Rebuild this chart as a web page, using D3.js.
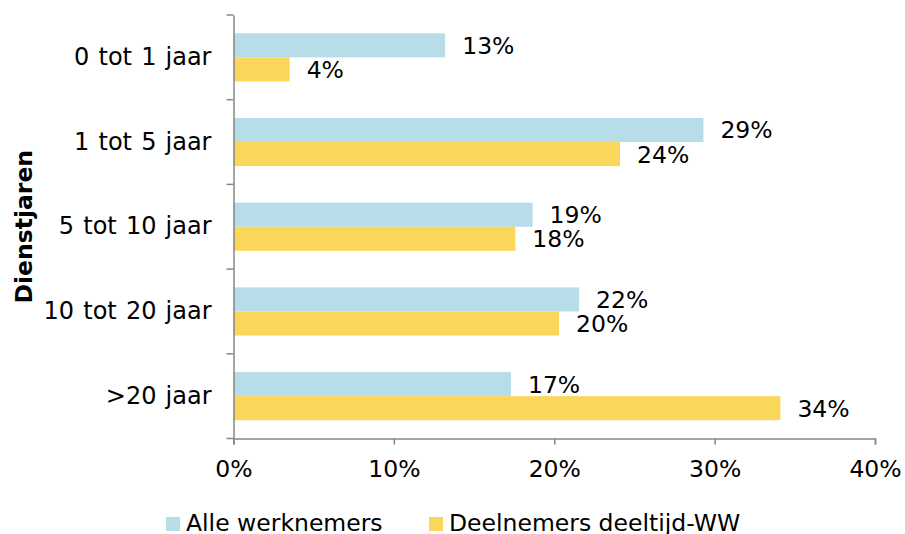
<!DOCTYPE html>
<html>
<head>
<meta charset="utf-8">
<script src="https://cdn.jsdelivr.net/npm/d3@7"></script>
<style>
  html, body { margin: 0; padding: 0; background: #fff; }
  svg { display: block; font-family: "DejaVu Sans", Verdana, sans-serif; }
</style>
</head>
<body>
<svg id="chart" width="905" height="534"></svg>
<script>
const categories = ["0 tot 1 jaar", "1 tot 5 jaar", "5 tot 10 jaar", "10 tot 20 jaar", ">20 jaar"];
const seriesNames = ["Alle werknemers", "Deelnemers deeltijd-WW"];
const alleWerknemers = [0.132, 0.293, 0.1865, 0.2155, 0.173];
const deelnemersWW = [0.035, 0.241, 0.1757, 0.203, 0.341];
const labelsAlle = ["13%", "29%", "19%", "22%", "17%"];
const labelsWW = ["4%", "24%", "18%", "20%", "34%"];
const xTicks = [0, 0.1, 0.2, 0.3, 0.4];
const colors = ["#B7DDE8", "#FAD75B"];

(function () {
const svg = d3.select("#chart");
const FS = 23.5;
const mLeft = 233.5, mRight = 875, mTop = 15, mBottom = 438.5;

const x = d3.scaleLinear().domain([0, 0.4]).range([mLeft, mRight]);
const y = d3.scaleBand().domain(categories).range([mTop, mBottom]).paddingInner(0).paddingOuter(0);
const inner = d3.scaleBand().domain(seriesNames).range([0, y.bandwidth()]).paddingOuter(0.76).paddingInner(0);

const series = [alleWerknemers, deelnemersWW];
const seriesLabels = [labelsAlle, labelsWW];

series.forEach((vals, si) => {
  svg.append("g").selectAll("rect").data(vals).join("rect")
    .attr("x", x(0))
    .attr("y", (d, i) => y(categories[i]) + inner(seriesNames[si]))
    .attr("width", d => x(d) - x(0))
    .attr("height", inner.bandwidth())
    .attr("fill", colors[si]);
  svg.append("g").selectAll("text").data(vals).join("text")
    .attr("x", d => x(d) + 17)
    .attr("y", (d, i) => y(categories[i]) + inner(seriesNames[si]) + inner.bandwidth() / 2 + FS * 0.36)
    .attr("font-size", FS)
    .attr("fill", "#000")
    .text((d, i) => seriesLabels[si][i]);
});

const xAxis = svg.append("g").attr("transform", `translate(0,${mBottom})`)
  .call(d3.axisBottom(x).tickValues(xTicks).tickFormat(d3.format(".0%")).tickSize(6).tickPadding(16));
xAxis.select(".domain").attr("stroke", "#868686").attr("stroke-width", 1.5);
xAxis.selectAll(".tick line").attr("stroke", "#868686").attr("stroke-width", 1.5);
xAxis.selectAll(".tick text").attr("font-size", FS).attr("font-family", "DejaVu Sans, Verdana, sans-serif").attr("fill", "#000");

const yAxis = svg.append("g").attr("transform", `translate(${mLeft},0)`)
  .call(d3.axisLeft(y).tickSize(0).tickPadding(22));
yAxis.select(".domain").attr("stroke", "#868686").attr("stroke-width", 1.5);
yAxis.selectAll(".tick text").attr("font-size", 24).attr("word-spacing", "1.5px")
  .attr("font-family", "DejaVu Sans, Verdana, sans-serif").attr("fill", "#000");
const bounds = categories.map(c => y(c)).concat([mBottom]);
svg.append("g").selectAll("line").data(bounds).join("line")
  .attr("x1", mLeft - 7).attr("x2", mLeft)
  .attr("y1", d => d).attr("y2", d => d)
  .attr("stroke", "#868686").attr("stroke-width", 1.5);

svg.append("text")
  .attr("transform", `translate(32,${(mTop + mBottom) / 2}) rotate(-90)`)
  .attr("text-anchor", "middle")
  .attr("font-size", FS)
  .attr("font-weight", "bold")
  .text("Dienstjaren");

const legendX = [166, 429];
seriesNames.forEach((n, i) => {
  svg.append("rect").attr("x", legendX[i]).attr("y", 517).attr("width", 14).attr("height", 14).attr("fill", colors[i]);
  svg.append("text").attr("x", legendX[i] + 20).attr("y", 531).attr("font-size", FS).text(n);
});
})();
</script>
</body>
</html>
